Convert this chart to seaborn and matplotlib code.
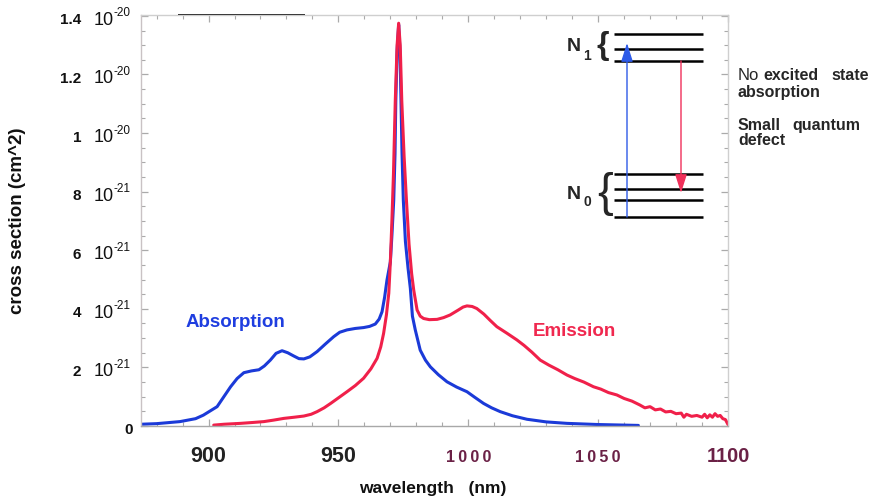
import numpy as np
import pandas as pd
import seaborn as sns
import matplotlib
matplotlib.use("Agg")
import matplotlib.pyplot as plt
from matplotlib.ticker import MultipleLocator
from matplotlib import transforms

# ---------------- data (cross section in units of 1e-21 cm^2) ----------------
abs_wl = [874, 880, 889, 895, 898, 903.3, 908.5, 911, 913.6, 916.5, 919.4, 921.5,
          923.8, 926, 928.3, 930.5, 932.8, 934.8, 936.7, 939, 941.8, 945, 948.2,
          950.5, 953.3, 956.5, 959.7, 962, 964.2, 965.7, 966.8, 967.8, 968.7, 970.0,
          970.6, 971.3, 971.8, 972.1, 972.6, 973.2, 973.7, 974.1, 974.5, 975.0,
          975.8, 976.8, 977.7, 978.5, 979.6, 981.5, 983.5, 985.4, 988.5, 991.8,
          995.5, 999.5, 1002.5, 1005.9, 1009, 1012.3, 1017, 1022.6, 1030, 1038,
          1050, 1065.5]
abs_val = [0.06, 0.08, 0.15, 0.25, 0.37, 0.66, 1.34, 1.62, 1.82, 1.88, 1.92, 2.05,
           2.25, 2.48, 2.57, 2.50, 2.39, 2.30, 2.29, 2.36, 2.54, 2.80, 3.05,
           3.20, 3.28, 3.33, 3.36, 3.40, 3.48, 3.65, 3.90, 4.40, 4.98, 5.6,
           6.5, 7.7, 9.3, 11.1, 12.8, 13.7, 12.8, 11.1, 9.3, 7.7,
           6.3, 5.4, 4.7, 3.75, 3.28, 2.59, 2.25, 2.02, 1.75, 1.51,
           1.33, 1.17, 0.98, 0.77, 0.62, 0.49, 0.35, 0.23, 0.14, 0.09,
           0.05, 0.02]

emi_wl = [902, 906, 912.3, 917, 921.3, 925, 929, 933, 936.7, 939.5, 941.8, 944.5,
          947, 950, 953.3, 956.5, 959.7, 962.5, 964.9, 966.3, 967.4, 968.5, 969.4,
          970.0, 970.6, 971.2, 971.9, 972.6, 973.2, 973.8, 974.4, 975.3, 976.2,
          977.2, 978.2, 979.0, 980.3, 981.5, 982.8, 985, 988, 990.5, 993, 996,
          998, 999.5, 1001.5, 1003.3, 1006, 1008.5, 1011, 1015, 1018.7, 1021.5,
          1024.5, 1027.7, 1031, 1034.5, 1038, 1041, 1044.5, 1048.2, 1051, 1054,
          1057.2, 1060, 1063, 1066, 1068, 1070, 1072, 1074, 1076, 1078, 1080,
          1082, 1083, 1084, 1086, 1088, 1090, 1091, 1092, 1093, 1094, 1095, 1096,
          1097, 1098, 1099, 1100]
emi_val = [0.03, 0.06, 0.09, 0.12, 0.15, 0.20, 0.26, 0.30, 0.34, 0.40, 0.49, 0.62,
           0.77, 0.96, 1.17, 1.38, 1.63, 1.95, 2.31, 2.70, 3.16, 3.80, 4.53,
           5.6, 7.0, 8.6, 11.1, 13.0, 13.75, 13.0, 11.1, 9.2, 7.7,
           6.2, 5.2, 4.64, 3.96, 3.75, 3.67, 3.63, 3.64, 3.70, 3.79, 3.95,
           4.06, 4.10, 4.08, 4.01, 3.82, 3.60, 3.39, 3.16, 2.94, 2.75,
           2.52, 2.25, 2.08, 1.92, 1.74, 1.62, 1.50, 1.34, 1.26, 1.14,
           1.06, 0.94, 0.85, 0.72, 0.62, 0.66, 0.55, 0.58, 0.48, 0.50, 0.42,
           0.44, 0.30, 0.40, 0.33, 0.36, 0.30, 0.40, 0.28, 0.38, 0.30, 0.42, 0.33,
           0.36, 0.25, 0.22, 0.05]

xtick_vals = [900, 950, 1000, 1050, 1100]
xtick_text = ["900", "950", "1\u20090\u20090\u20090", "1\u20090\u20095\u20090", "1100"]
ytick_vals = [0, 2, 4, 6, 8, 10, 12, 14]
ytick_nums = ["0", "2", "4", "6", "8", "1", "1.2", "1.4"]
ytick_exps = ["", "-21", "-21", "-21", "-21", "-20", "-20", "-20"]

# energy-level schematic (inset units)
upper_levels = [34, 49, 61]
lower_levels = [174, 189, 200, 217]

BLUE = "#1b3ad8"
RED = "#f0204a"
MAROON = "#6b2146"

sns.set_theme(style="white")
plt.rcParams["font.family"] = ["Liberation Sans", "DejaVu Sans"]

fig, ax = plt.subplots(figsize=(8.69, 4.97), dpi=100)
fig.subplots_adjust(left=141/869, right=728/869, bottom=1-426/497, top=1-15/497)

df_abs = pd.DataFrame({"wl": abs_wl, "val": abs_val})
df_emi = pd.DataFrame({"wl": emi_wl, "val": emi_val})
sns.lineplot(data=df_abs, x="wl", y="val", color=BLUE, lw=2.2, ax=ax, estimator=None)
sns.lineplot(data=df_emi, x="wl", y="val", color=RED, lw=2.2, ax=ax, estimator=None)

ax.set_xlim(874, 1100)
ax.set_ylim(0, 14.03)

# spines / ticks
for side, col in [("left", "#c9c2c4"), ("bottom", "#a8a8a8"), ("top", "#cfcfcf"), ("right", "#cfcfcf")]:
    ax.spines[side].set_visible(True)
    ax.spines[side].set_color(col)
    ax.spines[side].set_linewidth(1.0)
ax.set_xticks(xtick_vals)
ax.set_yticks(ytick_vals)
ax.xaxis.set_minor_locator(MultipleLocator(10))
ax.yaxis.set_minor_locator(MultipleLocator(0.5))
ax.tick_params(which="both", direction="in", top=True, right=True, bottom=True, left=True,
               color="#aaaaaa", labelleft=False, labelbottom=False)
ax.tick_params(which="major", length=5, width=0.9)
ax.tick_params(which="minor", length=3, width=0.8)

# black segment on top frame
ax.plot([0.063, 0.279], [1, 1], transform=ax.transAxes, color="black", lw=1.3,
        clip_on=False, solid_capstyle="butt")

# x tick labels
xtrans = transforms.blended_transform_factory(ax.transData, ax.transAxes)
xy_lab = -31/411
styles = [dict(fontsize=15.5, fontweight="bold", color="#222222"),
          dict(fontsize=15.5, fontweight="bold", color="#222222"),
          dict(fontsize=11.5, fontweight="bold", color=MAROON),
          dict(fontsize=11.5, fontweight="bold", color=MAROON),
          dict(fontsize=14.5, fontweight="bold", color=MAROON)]
for v, t, st in zip(xtick_vals, xtick_text, styles):
    ax.text(v, xy_lab, t, transform=xtrans, ha="center", va="center", **st)

# y tick labels
ytrans = transforms.blended_transform_factory(ax.transAxes, ax.transData)
for v, n, e in zip(ytick_vals, ytick_nums, ytick_exps):
    tr_down = transforms.offset_copy(ytrans, fig=fig, x=0, y=-4.5, units="dots")
    if e == "":
        ax.text((133-141)/587, v, n, transform=tr_down, ha="right", va="center",
                fontsize=11, fontweight="bold", color="#111111")
        continue
    ax.text((81-141)/587, v, n, transform=tr_down, ha="right", va="center",
            fontsize=11, fontweight="bold", color="#111111")
    ax.text((94-141)/587, v, "10", transform=tr_down, ha="left", va="center",
            fontsize=13, color="#111111")
    tr_up = transforms.offset_copy(ytrans, fig=fig, x=0, y=2.5, units="dots")
    ax.text((113-141)/587, v, e, transform=tr_up, ha="left", va="center",
            fontsize=8.5, color="#111111")

ax.set_xlabel("wavelength   (nm)", fontsize=12.5, fontweight="bold", color="#111111", va="center")
ax.xaxis.set_label_coords((433-141)/587, (426-488)/411)
ax.set_ylabel("cross section (cm^2)", fontsize=13.5, fontweight="bold", color="#111111", va="center")
ax.yaxis.set_label_coords((18-141)/587, 0.5)

ax.text(891.2, 3.52, "Absorption", color="#1f3ee0", fontsize=13.5, fontweight="bold",
        ha="left", va="center")
ax.text(1025, 3.24, "Emission", color="#f0284f", fontsize=13.5, fontweight="bold",
        ha="left", va="center")

# ---------------- inset energy diagram ----------------
ax2 = fig.add_axes([555/869, 1-230/497, (869-555)/869, 210/497])
ax2.set_xlim(555, 869)
ax2.set_ylim(230, 20)
ax2.axis("off")
ax2.patch.set_alpha(0)
ax2.hlines(upper_levels + lower_levels, 614, 703, color="black", lw=1.8)
ax2.annotate("", xy=(627, 43), xytext=(627, lower_levels[-1]),
             arrowprops=dict(arrowstyle="-|>,head_length=0.95,head_width=0.3",
                             color="#2e5be8", lw=1.0, shrinkA=0, shrinkB=0))
ax2.annotate("", xy=(681, 193), xytext=(681, upper_levels[-1]),
             arrowprops=dict(arrowstyle="-|>,head_length=0.95,head_width=0.3",
                             color="#f0305a", lw=1.0, shrinkA=0, shrinkB=0))
ax2.text(574, 47, "N", fontsize=14, fontweight="bold", ha="center", va="center")
ax2.text(587.5, 56, "1", fontsize=10, fontweight="bold", ha="center", va="center")
ax2.text(603, 46, "{", fontsize=23, fontweight="bold", ha="center", va="center")
ax2.text(574, 195, "N", fontsize=14, fontweight="bold", ha="center", va="center")
ax2.text(587.5, 202, "0", fontsize=10, fontweight="bold", ha="center", va="center")
ax2.text(605, 194, "{", fontsize=34, ha="center", va="center")

ax2.text(738, 76, "No", fontsize=12, ha="left", va="center", clip_on=False)
ax2.text(763, 76, "excited", fontsize=11.5, fontweight="bold", ha="left", va="center")
ax2.text(831, 76, "state", fontsize=11.5, fontweight="bold", ha="left", va="center")
ax2.text(738, 93, "absorption", fontsize=11.5, fontweight="bold", ha="left", va="center")
ax2.text(738, 126, "Small", fontsize=11.5, fontweight="bold", ha="left", va="center")
ax2.text(792, 126, "quantum", fontsize=11.5, fontweight="bold", ha="left", va="center")
ax2.text(738, 141, "defect", fontsize=11.5, fontweight="bold", ha="left", va="center")

fig.savefig("out.png", dpi=100)
